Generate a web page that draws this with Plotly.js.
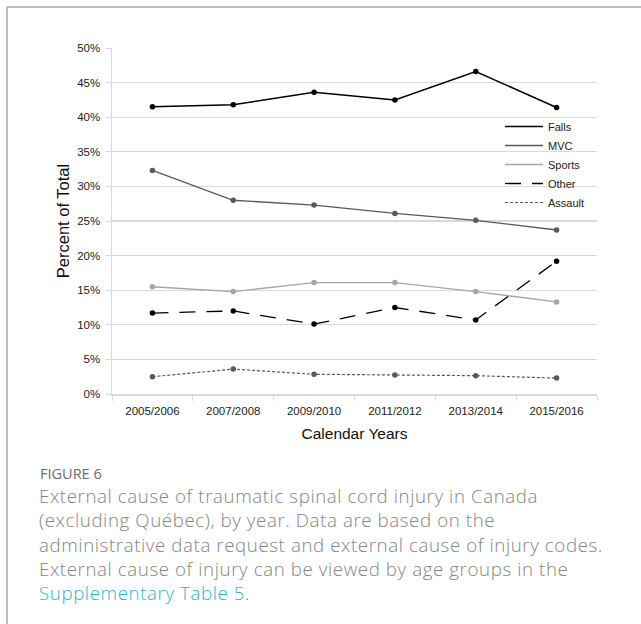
<!DOCTYPE html>
<html>
<head>
<meta charset="utf-8">
<script src="https://cdn.plot.ly/plotly-3.0.1.min.js"></script>
<style>
  html, body { margin: 0; padding: 0; background: #ffffff; }
  #chart { width: 641px; height: 624px; }
</style>
</head>
<body>
<div id="chart"></div>
<script>
// ---- Data (percent of total) ----
const years   = ["2005/2006", "2007/2008", "2009/2010", "2011/2012", "2013/2014", "2015/2016"];
const falls   = [41.5, 41.8, 43.6, 42.5, 46.6, 41.4];
const mvc     = [32.3, 28.0, 27.3, 26.1, 25.1, 23.7];
const sports  = [15.5, 14.8, 16.1, 16.1, 14.8, 13.3];
const other   = [11.7, 12.0, 10.1, 12.5, 10.7, 19.2];
const assault = [2.5, 3.6, 2.85, 2.75, 2.65, 2.3];

const seriesNames = ["Falls", "MVC", "Sports", "Other", "Assault"];
const seriesData  = [falls, mvc, sports, other, assault];
const yTicks = [0, 5, 10, 15, 20, 25, 30, 35, 40, 45, 50];

const captionLines = [
  "External cause of traumatic spinal cord injury in Canada",
  "(excluding Québec), by year. Data are based on the",
  "administrative data request and external cause of injury codes.",
  "External cause of injury can be viewed by age groups in the"
];
const captionLink = "Supplementary Table 5";

// ---- Styles ----
const styles = [
  {color: "#000000", width: 1.5, dash: "solid", mcolor: "#000000"},
  {color: "#595959", width: 1.3, dash: "solid", mcolor: "#595959"},
  {color: "#a6a6a6", width: 1.3, dash: "solid", mcolor: "#a6a6a6"},
  {color: "#000000", width: 1.3, dash: "16px,11px", mcolor: "#000000"},
  {color: "#595959", width: 1.2, dash: "3px,2px", mcolor: "#595959"}
];

const W = 641, H = 624;
const M = {l: 112, r: 44, t: 48, b: 230};
const PW = W - M.l - M.r, PH = H - M.t - M.b;
const px = x => (x - M.l) / PW;
const py = y => (H - M.b - y) / PH;

const traces = [];
seriesNames.forEach((name, i) => {
  const s = styles[i];
  traces.push({
    x: years, y: seriesData[i], name: name, type: "scatter", mode: "lines",
    line: {color: s.color, width: s.width, dash: s.dash},
    hoverinfo: "skip", legendrank: i + 1
  });
});
seriesNames.forEach((name, i) => {
  const s = styles[i];
  traces.push({
    x: years, y: seriesData[i], name: name, type: "scatter", mode: "markers",
    marker: {color: s.mcolor, size: 5.5}, showlegend: false, hoverinfo: "skip"
  });
});

const font = "'Liberation Sans', Arial, sans-serif";
const capFont = "'Open Sans', Lato, sans-serif";
const LS = "letter-spacing:0.6px";

const captionHtml = captionLines.map(t => "<span style='" + LS + "'>" + t + "</span>").join("<br>") +
  "<br><span style='" + LS + ";color:#2bb5c8'>" + captionLink + "</span><span style='" + LS + "'>.</span>";

const annotations = [
  {text: "FIGURE 6", xref: "paper", yref: "paper", x: px(38), y: py(473),
   xanchor: "left", yanchor: "middle", showarrow: false,
   font: {family: capFont, size: 14.5, color: "#6b6b6b"}},
  {text: captionHtml, xref: "paper", yref: "paper", x: px(37), y: py(544),
   xanchor: "left", yanchor: "middle", align: "left", showarrow: false,
   font: {family: capFont, size: 18.7, weight: 300, color: "#858585"}}
];

const layout = {
  width: W, height: H,
  margin: M,
  paper_bgcolor: "#ffffff", plot_bgcolor: "#ffffff",
  font: {family: font, size: 11, color: "#222222"},
  showlegend: true,
  legend: {
    x: px(500), y: py(112), xanchor: "left", yanchor: "top",
    bgcolor: "rgba(0,0,0,0)", font: {family: font, size: 11, color: "#222222"},
    traceorder: "normal", itemwidth: 38
  },
  xaxis: {
    type: "category",
    range: [-0.5, 5.5],
    showline: true, linecolor: "#d9d9d9", linewidth: 1.5,
    ticks: "outside", tickson: "boundaries", ticklen: 5, tickcolor: "#d9d9d9", tickwidth: 1,
    showgrid: false, zeroline: false, ticklabelstandoff: 6,
    tickfont: {family: font, size: 11.5, color: "#222222"},
    title: {text: "Calendar Years", font: {family: font, size: 15.5, color: "#111111"}, standoff: 12}
  },
  yaxis: {
    range: [0, 50],
    tickvals: yTicks, ticktext: yTicks.map(v => v + "%"),
    showline: true, linecolor: "#d9d9d9", linewidth: 1.5,
    ticks: "outside", ticklen: 5, tickcolor: "#d9d9d9",
    showgrid: true, gridcolor: "#d9d9d9", gridwidth: 1.2,
    zeroline: false, ticklabelstandoff: 3,
    tickfont: {family: font, size: 11.5, color: "#222222"},
    title: {text: "Percent of Total", font: {family: font, size: 16.5, color: "#111111"}, standoff: 3}
  },
  shapes: [
    {type: "line", xref: "paper", yref: "paper", x0: px(7), x1: px(641), y0: py(7), y1: py(7),
     line: {color: "#a9a9a9", width: 1.5}},
    {type: "line", xref: "paper", yref: "paper", x0: px(7), x1: px(7), y0: py(7), y1: py(624),
     line: {color: "#a9a9a9", width: 1.5}}
  ],
  annotations: annotations
};

Plotly.newPlot("chart", traces, layout, {staticPlot: true, displayModeBar: false});
</script>
</body>
</html>
